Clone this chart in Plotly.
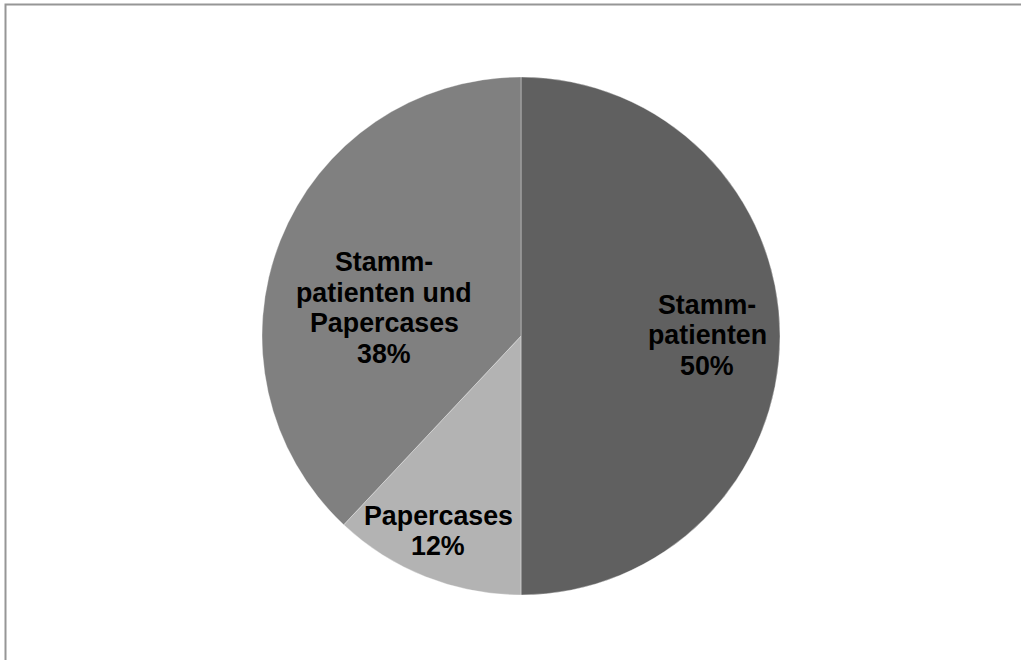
import plotly.graph_objects as go

# Patient groups and their shares (percent)
categories = ["Stammpatienten", "Papercases", "Stammpatienten und Papercases"]
display_lines = [["Stamm-", "patienten"], ["Papercases"], ["Stamm-", "patienten und", "Papercases"]]
values = [50, 12, 38]
colors = ["#606060", "#b3b3b3", "#808080"]

# Label block centres in pixels (x, y from top)
label_centers = [(707, 335), (438, 531), (384, 308)]

W, H = 1021, 660
cx, cy, r = 521, 336, 259

fig = go.Figure(
    go.Pie(
        labels=categories,
        values=values,
        sort=False,
        direction="clockwise",
        rotation=0,
        textinfo="none",
        hoverinfo="label+percent",
        marker=dict(colors=colors, line=dict(color="rgba(255,255,255,0.35)", width=1)),
        domain=dict(
            x=[(cx - r) / W, (cx + r) / W],
            y=[1 - (cy + r) / H, 1 - (cy - r) / H],
        ),
    )
)

line_step = 30.5
for name_lines, val, (lx, ly) in zip(display_lines, values, label_centers):
    lines = name_lines + [f"{val}%"]
    n = len(lines)
    for i, txt in enumerate(lines):
        y_px = ly + (i - (n - 1) / 2) * line_step
        fig.add_annotation(
            x=lx / W,
            y=1 - y_px / H,
            xref="paper",
            yref="paper",
            text=f"<b>{txt}</b>",
            showarrow=False,
            xanchor="center",
            yanchor="middle",
            font=dict(family="Liberation Sans, Arial, sans-serif", size=26.8, color="#000000"),
        )

# Chart-area frame
fig.add_shape(
    type="rect",
    xref="paper",
    yref="paper",
    x0=5.5 / W,
    x1=1.02,
    y0=-0.02,
    y1=1 - 4.5 / H,
    line=dict(color="#969696", width=2),
    fillcolor="rgba(0,0,0,0)",
)

fig.update_layout(
    width=W,
    height=H,
    margin=dict(l=0, r=0, t=0, b=0),
    paper_bgcolor="#ffffff",
    plot_bgcolor="#ffffff",
    showlegend=False,
)

fig.write_html("out.html")
